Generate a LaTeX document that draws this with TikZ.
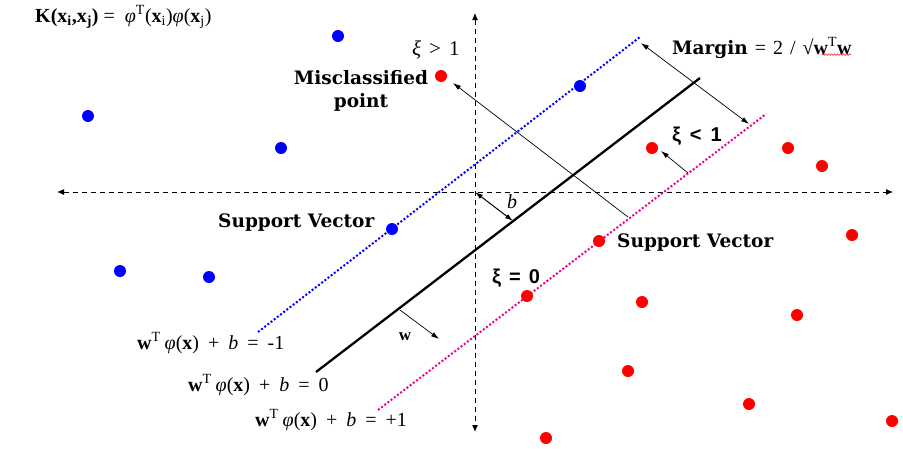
\documentclass[tikz,border=0pt]{standalone}
\usepackage{fontspec}
\setmainfont{Liberation Serif}
\newfontfamily\wideserif{DejaVu Serif}
\newfontfamily\sanslab{Liberation Sans}
\usetikzlibrary{arrows.meta,decorations.pathmorphing}
\newcommand{\opsp}{\hspace{9pt}}
\begin{document}
\begin{tikzpicture}[x=1pt,y=-1pt,
  bdot/.style={circle,fill=blue,inner sep=0pt,minimum size=12pt},
  rdot/.style={circle,fill=red,inner sep=0pt,minimum size=12pt},
  axis/.style={black,line width=1pt,dash pattern=on 5pt off 4pt,{Latex[length=7pt,width=6pt]}-{Latex[length=7pt,width=6pt]}},
  thinarrow/.style={black,line width=0.7pt,-{Latex[length=8pt,width=5pt]}},
  hyper/.style={black,line width=2.3pt},
  blueline/.style={blue,line width=2pt,dash pattern=on 2pt off 2pt},
  magline/.style={magenta,line width=2pt,dash pattern=on 2pt off 2pt},
  boldlab/.style={font=\wideserif\bfseries\fontsize{18.5}{20}\selectfont,inner sep=0pt,align=center},
  eqlab/.style={font=\fontsize{20}{22}\selectfont,inner sep=0pt},
  xilab/.style={font=\sanslab\bfseries\fontsize{20}{22}\selectfont,inner sep=0pt},
  squig/.style={red,line width=0.5pt,decorate,decoration={snake,amplitude=0.8pt,segment length=3pt}}
]
\useasboundingbox (0,0) rectangle (903,448);
% axes
\coordinate (hl) at (57,192); \coordinate (hr) at (893,192);
\coordinate (vt) at (475,13); \coordinate (vb) at (475,432);
\draw[axis] (hl) -- (hr);
\draw[axis] (vt) -- (vb);
% lines
\coordinate (d1) at (316,372); \coordinate (d2) at (700,78);
\coordinate (u1) at (258,332); \coordinate (u2) at (640,37);
\coordinate (m1) at (378,410); \coordinate (m2) at (766,114);
\draw[blueline] (u1) -- (u2);
\draw[magline] (m1) -- (m2);
\draw[hyper] (d1) -- (d2);
% arrows
\coordinate (ma1) at (641,43); \coordinate (ma2) at (749,124);
\draw[thinarrow,{Latex[length=8pt,width=5pt]}-{Latex[length=8pt,width=5pt]}] (ma1) -- (ma2);
\coordinate (mc1) at (628,217); \coordinate (mc2) at (453,83);
\draw[thinarrow] (mc1) -- (mc2);
\coordinate (xs1) at (688,173); \coordinate (xs2) at (661,151);
\draw[thinarrow] (xs1) -- (xs2);
\coordinate (o) at (475,192); \coordinate (bb) at (513,221);
\draw[thinarrow,line width=1pt,{Latex[length=8pt,width=5pt]}-{Latex[length=8pt,width=5pt]}] (o) -- (bb);
\coordinate (w1) at (400,310); \coordinate (w2) at (439,339);
\draw[thinarrow] (w1) -- (w2);
% points
\node[bdot] (b1) at (338,36) {};
\node[bdot] (b2) at (88,116) {};
\node[bdot] (b3) at (281,148) {};
\node[bdot] (b4) at (580,86) {};
\node[bdot] (b5) at (392,229) {};
\node[bdot] (b6) at (120,271) {};
\node[bdot] (b7) at (209,277) {};
\node[rdot] (r1) at (441,76) {};
\node[rdot] (r2) at (652,148) {};
\node[rdot] (r3) at (788,148) {};
\node[rdot] (r4) at (822,166) {};
\node[rdot] (r5) at (852,235) {};
\node[rdot] (r6) at (599,241) {};
\node[rdot] (r7) at (527,296) {};
\node[rdot] (r8) at (642,302) {};
\node[rdot] (r9) at (797,315) {};
\node[rdot] (r10) at (628,371) {};
\node[rdot] (r11) at (749,404) {};
\node[rdot] (r12) at (892,421) {};
\node[rdot] (r13) at (546,438) {};
% labels
\node[eqlab,anchor=west] (kern) at (35,17) {\textbf{K(x\textsubscript{i},x\textsubscript{j})}\ =\ \ \textit{φ}\textsuperscript{T}(\textbf{x}\textsubscript{i})\textit{φ}(\textbf{x}\textsubscript{j})};
\node[eqlab,anchor=west,font=\fontsize{21}{23}\selectfont] (xg) at (412,50) {\textit{ξ}\hspace{8pt}>\hspace{8pt}1};
\node[boldlab,anchor=center] (mis) at (361,91) {Misclassified\\[3pt]point};
\node[eqlab,anchor=west] (marg) at (672,48) {{\wideserif\bfseries\fontsize{18.5}{20}\selectfont Margin}\hspace{7pt}=\hspace{7pt}2\hspace{7pt}/\hspace{7pt}√\textbf{w}\textsuperscript{T}\textbf{w}};
\node[xilab,anchor=west] (xl) at (672,136) {ξ\ \,<\ \,1};
\node[boldlab,anchor=west] (sv1) at (218,223) {Support Vector};
\node[boldlab,anchor=west] (sv2) at (617,243) {Support Vector};
\node[xilab,anchor=west] (x0) at (492,278) {ξ\hspace{8pt}=\hspace{8pt}0};
\node[eqlab] (blab) at (512,202) {\textit{b}};
\node[eqlab,font=\bfseries\fontsize{17}{19}\selectfont] (wlab) at (405,337) {w};
\node[eqlab,anchor=west] (e1) at (137,343) {\textbf{w}\textsuperscript{T}\hspace{4pt}\textit{φ}(\textbf{x})\opsp+\opsp\textit{b}\opsp=\opsp-1};
\node[eqlab,anchor=west] (e0) at (188,385) {\textbf{w}\textsuperscript{T}\hspace{4pt}\textit{φ}(\textbf{x})\opsp+\opsp\textit{b}\opsp=\opsp0};
\node[eqlab,anchor=west] (e2) at (255,420) {\textbf{w}\textsuperscript{T}\hspace{4pt}\textit{φ}(\textbf{x})\opsp+\opsp\textit{b}\opsp=\opsp+1};
% spell-check squiggles
\coordinate (sq1) at ([yshift=4pt]marg.south east);
\draw[squig] ([xshift=-30pt]sq1) -- ([xshift=-1pt]sq1);
\end{tikzpicture}
\end{document}
